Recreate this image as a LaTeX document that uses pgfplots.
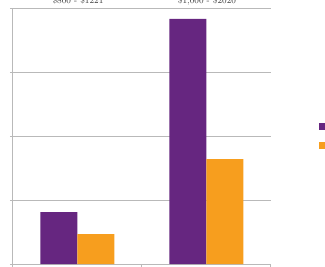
\documentclass[border=0pt]{standalone}
\usepackage{pgfplots}
\pgfplotsset{compat=1.18}
\definecolor{cpurple}{RGB}{102,38,128}
\definecolor{corange}{RGB}{247,158,30}
\definecolor{cgrid}{RGB}{185,185,185}
\begin{document}
\begin{tikzpicture}[x=1pt,y=1pt]
\useasboundingbox (0,0) rectangle (325,266);
\clip (0,0) rectangle (325,266);
\node[anchor=base, font=\small, text=black!80] at (78,262) {\$800 - \$1221};
\node[anchor=base, font=\small, text=black!80] at (207,262) {\$1,000 - \$2020};
\begin{axis}[
  at={(10,3)}, anchor=south west,
  scale only axis, width=258pt, height=256pt,
  xmin=-0.5, xmax=1.5, ymin=0, ymax=4,
  xtick={-0.5,0.5,1.5}, xticklabels={},
  ytick={0,1,2,3,4}, yticklabels={},
  ymajorgrids, grid style={cgrid, line width=0.8pt},
  axis x line*=bottom, axis y line*=left,
  axis line style={cgrid, line width=0.8pt, -},
  tick style={cgrid, line width=0.8pt},
  tick align=outside, major tick length=3pt,
  ybar, bar width=37pt,
  legend style={at={(1.175,0.5)}, anchor=west, draw=none, fill=none,
    font=\small, row sep=8pt, legend cell align=left},
  legend image code/.code={\fill[#1] (0pt,-3.5pt) rectangle (7pt,3.5pt);},
]
\addplot[fill=cpurple, draw=none, bar shift=-18.5pt] coordinates {(0,0.81) (1,3.83)};
\addplot[fill=corange, draw=none, bar shift=18.5pt] coordinates {(0,0.47) (1,1.64)};
\legend{Male,Female}
\end{axis}
\end{tikzpicture}
\end{document}
